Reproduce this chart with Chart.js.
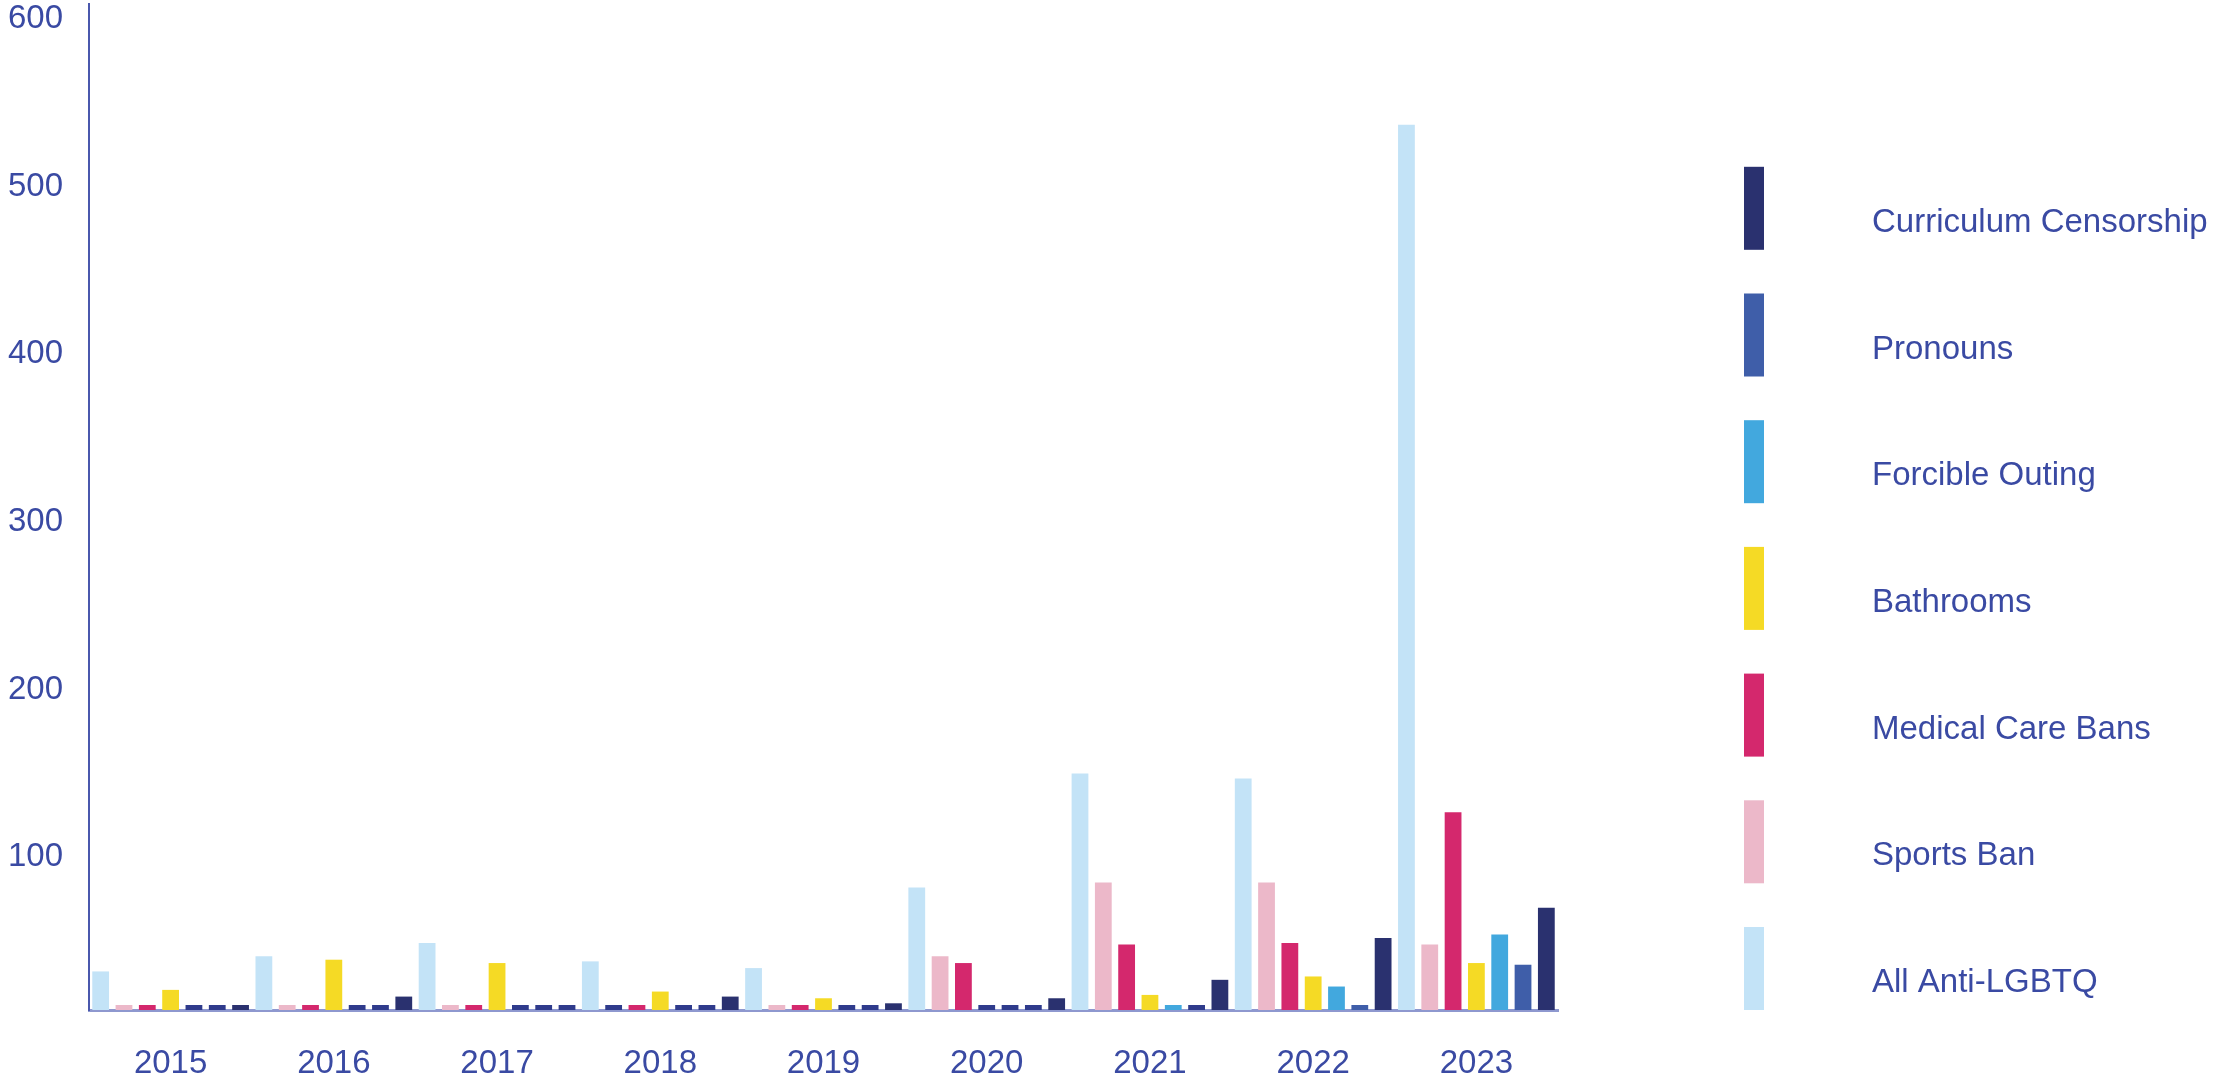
<!DOCTYPE html>
<html>
<head>
<meta charset="utf-8">
<title>Anti-LGBTQ bills by year</title>
<script src="https://cdn.jsdelivr.net/npm/chart.js@4.4.1/dist/chart.umd.min.js"></script>
<style>
  html, body { margin: 0; padding: 0; background: #ffffff; }
  #wrap { width: 2216px; height: 1081px; }
</style>
</head>
<body>
<div id="wrap"><canvas id="billsChart" width="2216" height="1081"></canvas></div>
<script>
// Data
const years = ['2015', '2016', '2017', '2018', '2019', '2020', '2021', '2022', '2023'];

const allAntiLgbtq = [23, 32, 40, 29, 25, 73, 141, 138, 528];
const sportsBan = [3, 1, 3, 0, 2, 32, 76, 76, 39];
const medicalCareBans = [2, 1, 1, 2, 3, 28, 39, 40, 118];
const bathrooms = [12, 30, 28, 11, 7, 0, 9, 20, 28];
const forcibleOuting = [0, 0, 0, 0, 0, 0, 1, 14, 45];
const pronouns = [0, 0, 0, 0, 0, 0, 0, 2, 27];
const curriculumCensorship = [1, 8, 0, 8, 4, 7, 18, 43, 61];

const yTickLabels = [100, 200, 300, 400, 500, 600];

const textColor = '#3a4aa3';
const zeroColor = '#2f3b8c';
const fontFamily = '"Liberation Sans", Arial, Helvetica, sans-serif';

function series(label, data, color) {
    return {
        label: label,
        data: data,
        seriesColor: color,
        backgroundColor: (c) => (c.raw === 0 ? zeroColor : color),
        borderWidth: 0,
        barPercentage: 0.72,
        categoryPercentage: 1.0,
        minBarLength: 5
    };
}

// Legend on the right, drawn by hand: tall swatches, last series on top
const sideLegend = {
    id: 'sideLegend',
    afterDraw(chart) {
        const ctx = chart.ctx;
        const area = chart.chartArea;
        const sets = chart.data.datasets.slice().reverse();
        const step = 126.7;
        const boxW = 20;
        const boxH = 83;
        const top0 = area.bottom - (sets.length - 1) * step - boxH;

        ctx.save();
        ctx.font = '33px ' + fontFamily;
        ctx.textBaseline = 'middle';
        ctx.textAlign = 'left';
        sets.forEach((ds, i) => {
            const y = top0 + i * step;
            ctx.fillStyle = ds.seriesColor;
            ctx.fillRect(area.right + 186, y, boxW, boxH);
            ctx.fillStyle = textColor;
            ctx.fillText(ds.label, area.right + 314, y + 56);
        });
        ctx.restore();
    }
};

const ctx = document.getElementById('billsChart').getContext('2d');

new Chart(ctx, {
    type: 'bar',
    data: {
        labels: years,
        datasets: [
            series('All Anti-LGBTQ', allAntiLgbtq, '#c3e3f7'),
            series('Sports Ban', sportsBan, '#ecb8c9'),
            series('Medical Care Bans', medicalCareBans, '#d4286d'),
            series('Bathrooms', bathrooms, '#f5da25'),
            series('Forcible Outing', forcibleOuting, '#42a8de'),
            series('Pronouns', pronouns, '#3f5ea9'),
            series('Curriculum Censorship', curriculumCensorship, '#2a316f')
        ]
    },
    options: {
        responsive: false,
        animation: false,
        layout: {
            padding: { top: 4, right: 658, left: 0, bottom: 0 }
        },
        plugins: {
            legend: { display: false },
            tooltip: { enabled: false }
        },
        scales: {
            x: {
                grid: { display: false, drawTicks: false },
                border: { display: true, color: '#8e98cf', width: 3 },
                ticks: {
                    color: textColor,
                    font: { size: 33, family: fontFamily },
                    padding: 34
                },
                afterFit: (s) => {
                    s.height = 71;
                    s.paddingLeft = 0;
                    s.paddingRight = 0;
                }
            },
            y: {
                min: 0,
                max: 600,
                grid: { display: false, drawTicks: false },
                border: { display: true, color: '#4a58ad', width: 2 },
                ticks: {
                    stepSize: 100,
                    padding: 26,
                    labelOffset: 15,
                    color: textColor,
                    font: { size: 33, family: fontFamily },
                    callback: (v) => (yTickLabels.includes(v) ? String(v) : '')
                },
                afterFit: (s) => {
                    s.width = 89;
                    s.paddingTop = 0;
                    s.paddingBottom = 0;
                }
            }
        }
    },
    plugins: [sideLegend]
});
</script>
</body>
</html>
